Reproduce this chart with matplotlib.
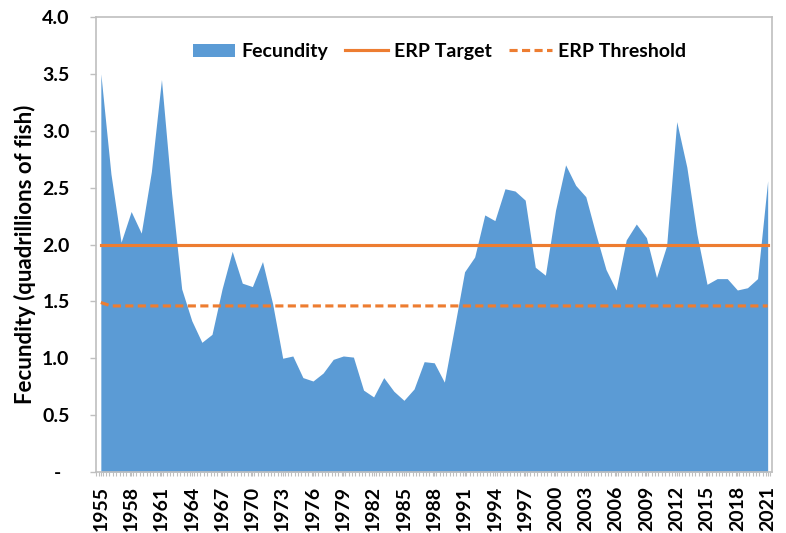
import numpy as np
import matplotlib.pyplot as plt
import matplotlib.transforms as mtransforms

plt.rcParams['font.family'] = ['Lato', 'DejaVu Sans']
plt.rcParams['font.weight'] = 'bold'

# Данные
years = list(range(1955, 2022))
fecundity = [3.50, 2.62, 2.02, 2.29, 2.10, 2.64, 3.45, 2.45, 1.61, 1.33,
             1.14, 1.21, 1.61, 1.94, 1.66, 1.63, 1.85, 1.48, 1.00, 1.02,
             0.83, 0.80, 0.87, 0.99, 1.02, 1.01, 0.72, 0.66, 0.83, 0.71,
             0.63, 0.73, 0.97, 0.96, 0.79, 1.27, 1.76, 1.89, 2.26, 2.21,
             2.49, 2.47, 2.39, 1.80, 1.73, 2.30, 2.70, 2.52, 2.42, 2.09,
             1.78, 1.60, 2.04, 2.18, 2.06, 1.71, 1.99, 3.08, 2.68, 2.09,
             1.65, 1.70, 1.70, 1.60, 1.62, 1.70, 2.56]
erp_target = [2.0] * len(years)
erp_threshold = [1.49] + [1.46] * (len(years) - 1)
yticks = [0, 0.5, 1.0, 1.5, 2.0, 2.5, 3.0, 3.5, 4.0]
ytick_labels = ['-', '0.5', '1.0', '1.5', '2.0', '2.5', '3.0', '3.5', '4.0']
xticks = list(range(1955, 2022, 3))

blue = '#5B9BD5'
orange = '#ED7D31'
grey = '#BFBFBF'
fs = 14

fig = plt.figure(figsize=(7.86, 5.33), dpi=100)
ax = fig.add_axes([96 / 786, 1 - 472 / 533, 676 / 786, 455 / 533])

ax.fill_between(years, fecundity, 0, color=blue, linewidth=0, label='Fecundity')
ax.plot(years, erp_target, color=orange, linewidth=2.25, label='ERP Target')
ax.plot(years, erp_threshold, color=orange, linewidth=2.25, dashes=(2.6, 1.4),
        label='ERP Threshold')

ax.set_xlim(1954.52, 2021.43)
ax.set_ylim(0, 4.0)

ax.set_yticks(yticks)
ax.set_yticklabels(ytick_labels, fontweight='bold')
ax.set_xticks(xticks)
ax.set_xticklabels([str(y) for y in xticks], rotation=90, fontweight='bold')
ax.set_xticks(np.arange(1954.52, 2021.45, 1 / 3), minor=True)

ax.tick_params(axis='y', direction='out', length=4, width=1, color=grey,
               pad=15, labelsize=fs)
ax.tick_params(axis='x', which='both', direction='out', length=3, width=0.8,
               color=grey, pad=7, labelsize=fs)
# сдвигаем "-" левее, как в формате Excel
off = mtransforms.ScaledTranslation(-8 / 100, 0, fig.dpi_scale_trans)
zero_lbl = ax.get_yticklabels()[0]
zero_lbl.set_transform(zero_lbl.get_transform() + off)

for s in ax.spines.values():
    s.set_color(grey)
    s.set_linewidth(1.2)

ax.set_ylabel('Fecundity (quadrillions of fish)', fontsize=16, fontweight='bold')
ax.yaxis.set_label_coords(-0.089, 0.479)

leg = ax.legend(loc='upper center', bbox_to_anchor=(0.508, 1.0), ncol=3,
                frameon=False, prop={'size': fs, 'weight': 'bold'},
                handlelength=2.2, handleheight=0.7, handletextpad=0.3,
                columnspacing=0.9, borderaxespad=0.95)

fig.savefig('out.png', dpi=100)
